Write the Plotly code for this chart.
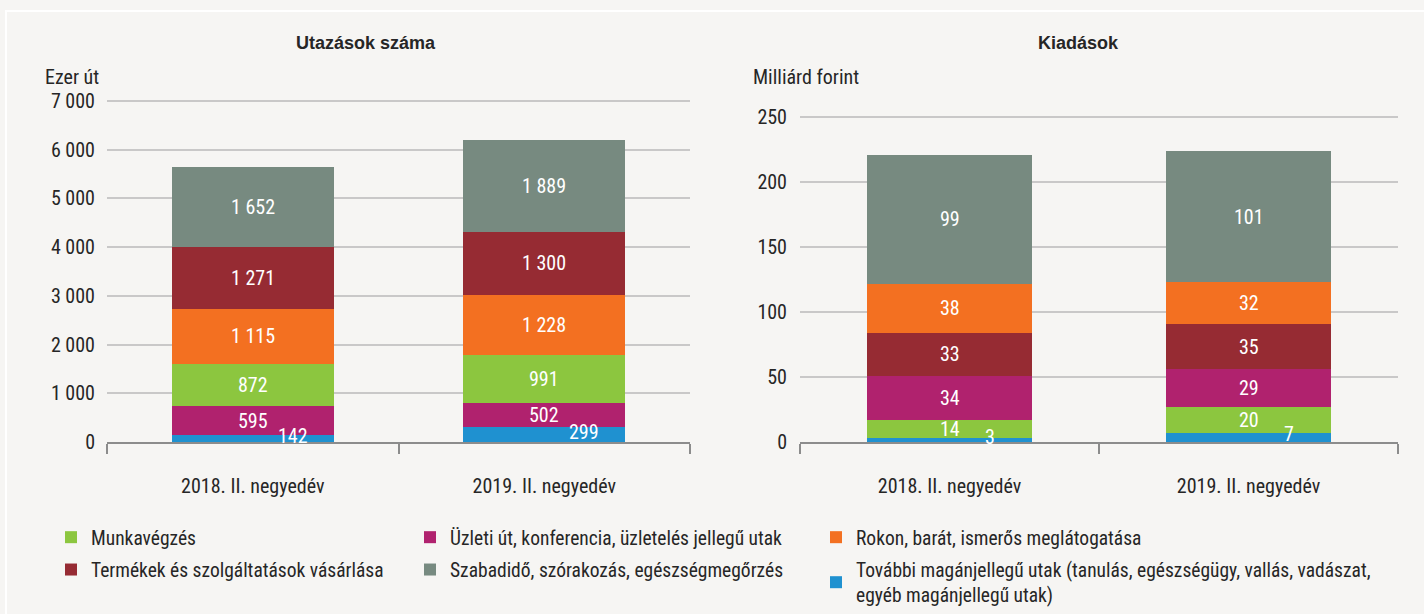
import plotly.graph_objects as go

W, H = 1424, 614

categories = ["2018. II. negyedév", "2019. II. negyedév"]

name_munka = "Munkavégzés"
name_uzleti = "Üzleti út, konferencia, üzletelés jellegű utak"
name_rokon = "Rokon, barát, ismerős meglátogatása"
name_termek = "Termékek és szolgáltatások vásárlása"
name_szabad = "Szabadidő, szórakozás, egészségmegőrzés"
name_tovabbi = "További magánjellegű utak (tanulás, egészségügy, vallás, vadászat,<br>egyéb magánjellegű utak)"

# Utazások száma (ezer út)
trips_tovabbi = [142, 299]
trips_uzleti = [595, 502]
trips_munka = [872, 991]
trips_rokon = [1115, 1228]
trips_termek = [1271, 1300]
trips_szabad = [1652, 1889]

# Kiadások (milliárd forint)
spend_tovabbi = [3, 7]
spend_munka = [14, 20]
spend_uzleti = [34, 29]
spend_termek = [33, 35]
spend_rokon = [38, 32]
spend_szabad = [99, 101]

trip_ticks = [0, 1000, 2000, 3000, 4000, 5000, 6000, 7000]
spend_ticks = [0, 50, 100, 150, 200, 250]

colors = {
    name_munka: "#8cc63f",
    name_uzleti: "#b0226e",
    name_rokon: "#f37021",
    name_termek: "#962b33",
    name_szabad: "#778a80",
    name_tovabbi: "#1f91d0",
}
legend_of = {
    name_munka: ("legend", 1), name_termek: ("legend", 2),
    name_uzleti: ("legend2", 1), name_szabad: ("legend2", 2),
    name_rokon: ("legend3", 1), name_tovabbi: ("legend3", 2),
}

NARROW = "Roboto Condensed, DejaVu Sans Condensed, Liberation Sans, Arial, sans-serif"
BOLD = "Liberation Sans, Arial, sans-serif"
TXT = "#262626"
BG = "#f6f5f3"

left_stack = [(name_tovabbi, trips_tovabbi), (name_uzleti, trips_uzleti), (name_munka, trips_munka),
              (name_rokon, trips_rokon), (name_termek, trips_termek), (name_szabad, trips_szabad)]
right_stack = [(name_tovabbi, spend_tovabbi), (name_munka, spend_munka), (name_uzleti, spend_uzleti),
               (name_termek, spend_termek), (name_rokon, spend_rokon), (name_szabad, spend_szabad)]

fig = go.Figure()
annotations = []


def fmt(v):
    return f"{v:,}".replace(",", " ")


def add_stack(stack, xa, ya, small_limit, showlegend):
    base = [0] * len(categories)
    for name, vals in stack:
        leg, rank = legend_of[name]
        fig.add_trace(go.Bar(
            x=categories, y=vals, name=name, xaxis=xa, yaxis=ya,
            marker=dict(color=colors[name], line=dict(width=0)),
            legend=leg, legendrank=rank, legendgroup=name, showlegend=showlegend,
            hovertemplate="%{x}: %{y}<extra>" + name.split("<br>")[0] + "</extra>",
        ))
        for i, (c, v) in enumerate(zip(categories, vals)):
            small = v <= small_limit
            annotations.append(dict(
                x=c, y=base[i] + v / 2, xref=xa, yref=ya, text=fmt(v), showarrow=False,
                font=dict(family=NARROW, size=20, color="white"),
                xshift=40 if small else 0, yshift=3 if small else 0,
            ))
            base[i] += v


add_stack(left_stack, "x", "y", 300, True)
add_stack(right_stack, "x2", "y2", 8, False)

yb = (H - 442) / H
leg_common = dict(xanchor="left", yanchor="top", orientation="v", bgcolor="rgba(0,0,0,0)",
                  font=dict(size=19.5, family=NARROW, color=TXT), tracegroupgap=4,
                  traceorder="grouped", borderwidth=0)
axis_font = dict(size=20, family=NARROW, color=TXT)
fig.update_layout(
    width=W, height=H,
    margin=dict(l=0, r=0, t=0, b=0, autoexpand=False),
    paper_bgcolor=BG, plot_bgcolor=BG,
    barmode="stack", bargap=0.445,
    separators=", ",
    font=dict(family=NARROW, size=19, color=TXT),
    xaxis=dict(domain=[107 / W, 690 / W], anchor="y", type="category",
               showline=True, linecolor="#8c8c8c", linewidth=2,
               ticks="outside", tickson="boundaries", ticklen=10, tickwidth=2, tickcolor="#8c8c8c",
               ticklabelstandoff=25, tickfont=axis_font, showgrid=False, fixedrange=True),
    yaxis=dict(domain=[yb, (H - 98.6) / H], anchor="x", range=[0, 7050], tickvals=trip_ticks,
               tickformat=",d", showgrid=True, gridcolor="#c9c8c8", gridwidth=2,
               zeroline=False, showline=False, ticks="", ticklabelstandoff=11,
               tickfont=axis_font, fixedrange=True),
    xaxis2=dict(domain=[800 / W, 1398 / W], anchor="y2", type="category",
                showline=True, linecolor="#8c8c8c", linewidth=2,
                ticks="outside", tickson="boundaries", ticklen=10, tickwidth=2, tickcolor="#8c8c8c",
                ticklabelstandoff=25, tickfont=axis_font, showgrid=False, fixedrange=True),
    yaxis2=dict(domain=[yb, (H - 113.6) / H], anchor="x2", range=[0, 253], tickvals=spend_ticks,
                tickformat=",d", showgrid=True, gridcolor="#c9c8c8", gridwidth=2,
                zeroline=False, showline=False, ticks="", ticklabelstandoff=12,
                tickfont=axis_font, fixedrange=True),
    legend=dict(x=51 / W, y=(H - 518) / H, **leg_common),
    legend2=dict(x=410 / W, y=(H - 518) / H, **leg_common),
    legend3=dict(x=816 / W, y=(H - 518) / H, **leg_common),
    showlegend=True,
)

annotations += [
    dict(x=366 / W, y=(H - 43) / H, xref="paper", yref="paper", text="<b>Utazások száma</b>",
         showarrow=False, xanchor="center", yanchor="middle",
         font=dict(family=BOLD, size=18, color=TXT)),
    dict(x=1078 / W, y=(H - 43) / H, xref="paper", yref="paper", text="<b>Kiadások</b>",
         showarrow=False, xanchor="center", yanchor="middle",
         font=dict(family=BOLD, size=18, color=TXT)),
    dict(x=43 / W, y=(H - 77) / H, xref="paper", yref="paper", text="Ezer út",
         showarrow=False, xanchor="left", yanchor="middle",
         font=dict(family=NARROW, size=20, color=TXT)),
    dict(x=751 / W, y=(H - 77) / H, xref="paper", yref="paper", text="Milliárd forint",
         showarrow=False, xanchor="left", yanchor="middle",
         font=dict(family=NARROW, size=20, color=TXT)),
]
fig.update_layout(annotations=annotations)

fig.add_shape(type="rect", xref="paper", yref="paper",
              x0=6 / W, y0=-0.05, x1=1.05, y1=(H - 11) / H,
              line=dict(color="white", width=2), fillcolor="rgba(0,0,0,0)", layer="below")

fig.write_html("out.html", config={"displayModeBar": False},
               post_script="document.body.style.margin='0px';document.body.style.overflow='hidden';")
